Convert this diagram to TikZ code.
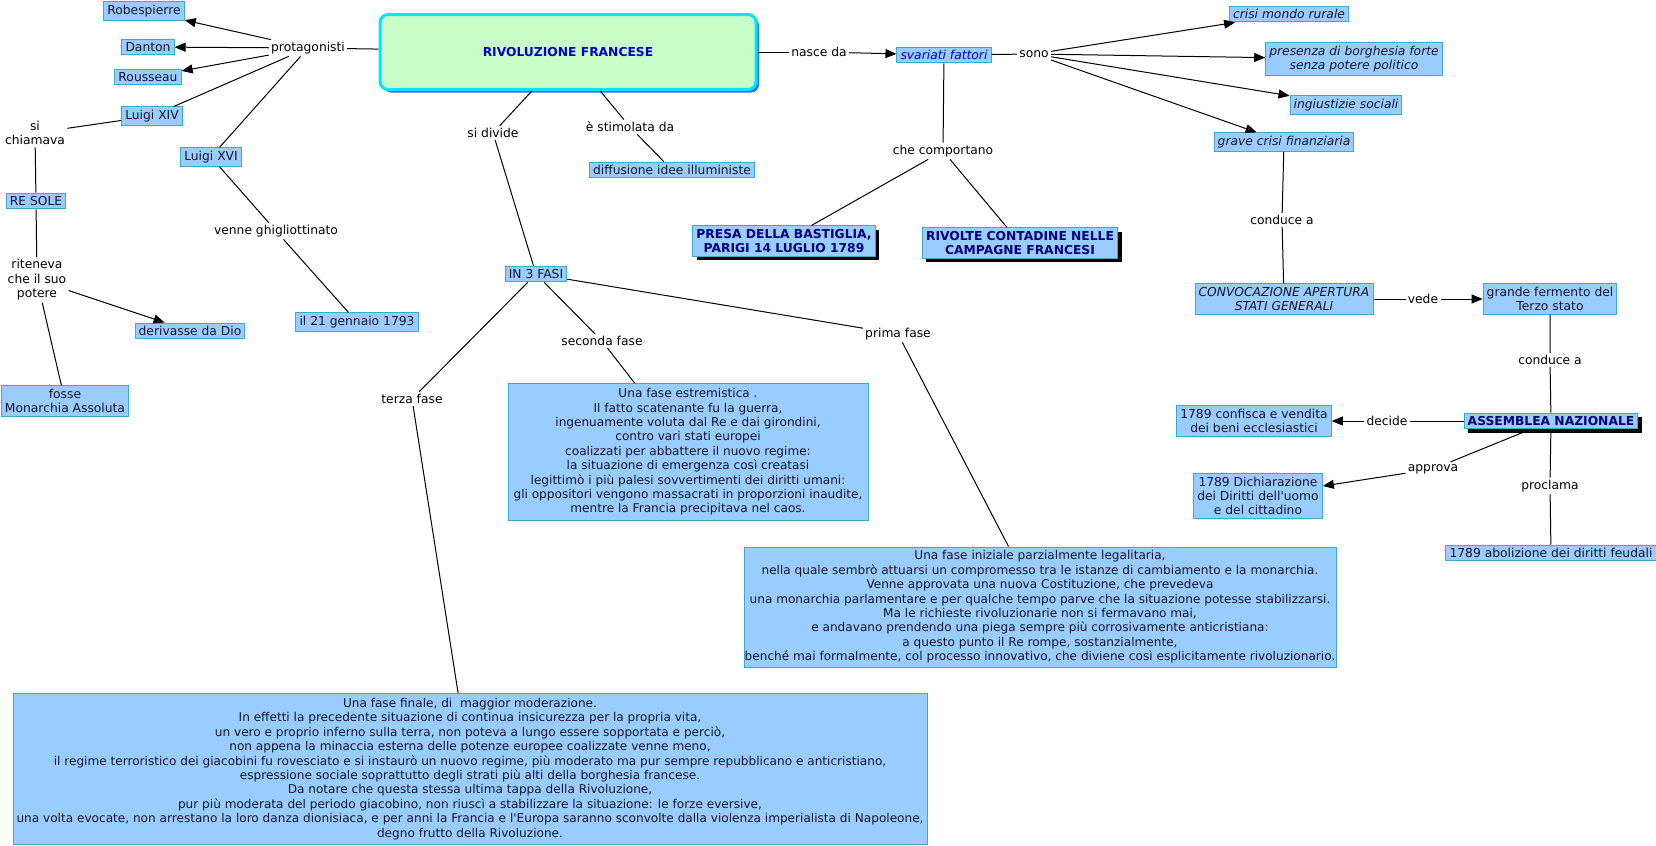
\documentclass[tikz,border=0pt]{standalone}
\usepackage{fontspec}
\setmainfont{DejaVu Sans}
\usetikzlibrary{arrows.meta,shadows}
\definecolor{boxfill}{RGB}{153,204,255}
\definecolor{boxline}{RGB}{60,170,200}
\definecolor{mainfill}{RGB}{200,255,200}
\definecolor{mainline}{RGB}{0,230,255}
\definecolor{mainshadow}{RGB}{40,110,255}
\definecolor{titleblue}{RGB}{0,0,200}
\definecolor{navy}{RGB}{0,0,120}
\definecolor{ink}{RGB}{20,20,40}
\begin{document}
\begin{tikzpicture}[x=0.5pt,y=-0.5pt,
    concept/.style={draw=boxline,fill=boxfill,line width=0.5pt,inner xsep=1.8pt,inner ysep=1.6pt,align=center,text=ink},
    slanted/.style={concept,font=\itshape},
    strong/.style={concept,font=\bfseries,text=navy,drop shadow={shadow xshift=2pt,shadow yshift=-2pt,fill=black,opacity=1}},
    phasebox/.style={concept,inner xsep=0.3pt,font=\fontsize{6.05}{7.2}\selectfont},
    phrase/.style={inner sep=1pt,align=center},
    link/.style={line width=0.5pt},
    arr/.style={line width=0.5pt,-{Triangle[length=5.5pt,width=4.5pt]}}]
    \fontsize{6.15}{7.2}\selectfont
    \useasboundingbox (0,0) rectangle (1656,846);

    \node [draw=mainline,line width=1.5pt,fill=mainfill,rounded corners=4pt,minimum width=188pt,minimum height=37.5pt,font=\bfseries,text=titleblue,drop shadow={shadow xshift=1.5pt,shadow yshift=-1.5pt,fill=mainshadow,opacity=1}] (rev) at (568,52) {RIVOLUZIONE FRANCESE};

    \node [concept] (robespierre) at (144,11) {Robespierre};
    \node [concept] (danton) at (148,47) {Danton};
    \node [concept] (rousseau) at (148,77) {Rousseau};
    \node [concept] (luigixiv) at (152,116) {Luigi XIV};
    \node [concept] (luigixvi) at (211,157) {Luigi XVI};
    \node [concept] (resole) at (36,201) {RE SOLE};
    \node [concept] (dio) at (190,331) {derivasse da Dio};
    \node [concept] (monarchia) at (65,401) {fosse\\Monarchia Assoluta};
    \node [concept] (gennaio) at (357,322) {il 21 gennaio 1793};
    \node [concept] (illuministe) at (672,170) {diffusione idee illuministe};
    \node [slanted,text=titleblue] (fattori) at (944,55) {svariati fattori};
    \node [slanted] (rurale) at (1289,14) {crisi mondo rurale};
    \node [slanted] (borghesia) at (1354,59) {presenza di borghesia forte\\senza potere politico};
    \node [slanted] (ingiustizie) at (1346,105) {ingiustizie sociali};
    \node [slanted] (finanza) at (1284,142) {grave crisi finanziaria};
    \node [strong] (bastiglia) at (784,241) {PRESA DELLA BASTIGLIA,\\PARIGI 14 LUGLIO 1789};
    \node [strong] (rivolte) at (1020,243) {RIVOLTE CONTADINE NELLE\\CAMPAGNE FRANCESI};
    \node [slanted] (stati) at (1284,299) {CONVOCAZIONE APERTURA\\STATI GENERALI};
    \node [concept] (fermento) at (1550,299) {grande fermento del\\Terzo stato};
    \node [strong] (assemblea) at (1551,421) {ASSEMBLEA NAZIONALE};
    \node [concept] (confisca) at (1254,421) {1789 confisca e vendita\\dei beni ecclesiastici};
    \node [concept] (diritti) at (1258,496) {1789 Dichiarazione\\dei Diritti dell\textquotesingle uomo\\e del cittadino};
    \node [concept] (feudali) at (1551,553) {1789 abolizione dei diritti feudali};
    \node [concept] (fasi) at (536,274) {IN 3 FASI};

    \node [phasebox,minimum width=180pt,minimum height=68.5pt] (fase2) at (688,452) {Una fase estremistica .\\
        Il fatto scatenante fu la guerra,\\
        ingenuamente voluta dal Re e dai girondini,\\
        contro vari stati europei\\
        coalizzati per abbattere il nuovo regime:\\
        la situazione di emergenza così creatasi\\
        legittimò i più palesi sovvertimenti dei diritti umani:\\
        gli oppositori vengono massacrati in proporzioni inaudite,\\
        mentre la Francia precipitava nel caos.};
    \node [phasebox,minimum width=296pt,minimum height=60pt] (fase1) at (1040,607) {Una fase iniziale parzialmente legalitaria,\\
        nella quale sembrò attuarsi un compromesso tra le istanze di cambiamento e la monarchia.\\
        Venne approvata una nuova Costituzione, che prevedeva\\
        una monarchia parlamentare e per qualche tempo parve che la situazione potesse stabilizzarsi.\\
        Ma le richieste rivoluzionarie non si fermavano mai,\\
        e andavano prendendo una piega sempre più corrosivamente anticristiana:\\
        a questo punto il Re rompe, sostanzialmente,\\
        benché mai formalmente, col processo innovativo, che diviene così esplicitamente rivoluzionario.};
    \node [phasebox,minimum width=457pt,minimum height=75.5pt] (fase3) at (470,769) {Una fase finale, di~ maggior moderazione.\\
        In effetti la precedente situazione di continua insicurezza per la propria vita,\\
        un vero e proprio inferno sulla terra, non poteva a lungo essere sopportata e perciò,\\
        non appena la minaccia esterna delle potenze europee coalizzate venne meno,\\
        il regime terroristico dei giacobini fu rovesciato e si instaurò un nuovo regime, più moderato ma pur sempre repubblicano e anticristiano,\\
        espressione sociale soprattutto degli strati più alti della borghesia francese.\\
        Da notare che questa stessa ultima tappa della Rivoluzione,\\
        pur più moderata del periodo giacobino, non riuscì a stabilizzare la situazione: le forze eversive,\\
        una volta evocate, non arrestano la loro danza dionisiaca, e per anni la Francia e l\textquotesingle Europa saranno sconvolte dalla violenza imperialista di Napoleone,\\
        degno frutto della Rivoluzione.};

    \node [phrase] (protagonisti) at (308,48) {protagonisti};
    \node [phrase] (chiamava) at (35,133) {si\\chiamava};
    \node [phrase] (riteneva) at (37,280) {riteneva\\che il suo\\potere};
    \node [phrase] (ghigliottinato) at (276,231) {venne ghigliottinato};
    \node [phrase] (divide) at (493,133) {si divide};
    \node [phrase] (stimolata) at (630,127) {è stimolata da};
    \node [phrase] (nasce) at (819,52) {nasce da};
    \node [phrase] (sono) at (1034,54) {sono};
    \node [phrase] (comportano) at (943,151) {che comportano};
    \node [phrase] (conduce) at (1282,220) {conduce a};
    \node [phrase] (vede) at (1423,299) {vede};
    \node [phrase] (conduceb) at (1550,360) {conduce a};
    \node [phrase] (decide) at (1387,421) {decide};
    \node [phrase] (approva) at (1433,469) {approva};
    \node [phrase] (proclama) at (1550,486) {proclama};
    \node [phrase] (seconda) at (602,341) {seconda fase};
    \node [phrase] (prima) at (898,334) {prima fase};
    \node [phrase] (terza) at (412,399) {terza fase};

    \draw [link] (rev) -- (protagonisti);
    \draw [arr] (protagonisti) -- (robespierre);
    \draw [arr] (protagonisti) -- (danton);
    \draw [arr] (protagonisti) -- (rousseau);
    \draw [link] (protagonisti) -- (luigixiv);
    \draw [link] (protagonisti) -- (luigixvi);
    \draw [link] (luigixiv) -- (chiamava) -- (resole);
    \draw [link] (resole) -- (riteneva);
    \draw [arr] (riteneva) -- (dio);
    \draw [link] (riteneva) -- (monarchia);
    \draw [link] (luigixvi) -- (ghigliottinato) -- (gennaio);
    \draw [link] (rev) -- (divide) -- (fasi);
    \draw [link] (rev) -- (stimolata) -- (illuministe);
    \draw [link] (rev) -- (nasce);
    \draw [arr] (nasce) -- (fattori);
    \draw [link] (fattori) -- (sono);
    \draw [arr] (sono) -- (rurale);
    \draw [arr] (sono) -- (borghesia);
    \draw [arr] (sono) -- (ingiustizie);
    \draw [arr] (sono) -- (finanza);
    \draw [link] (fattori) -- (comportano);
    \draw [link] (comportano) -- (bastiglia);
    \draw [link] (comportano) -- (rivolte);
    \draw [link] (finanza) -- (conduce) -- (stati);
    \draw [link] (stati) -- (vede);
    \draw [arr] (vede) -- (fermento);
    \draw [link] (fermento) -- (conduceb) -- (assemblea);
    \draw [link] (assemblea) -- (decide);
    \draw [arr] (decide) -- (confisca);
    \draw [link] (assemblea) -- (approva);
    \draw [arr] (approva) -- (diritti);
    \draw [link] (assemblea) -- (proclama) -- (feudali);
    \draw [link] (fasi) -- (seconda) -- (fase2);
    \draw [link] (fasi) -- (prima) -- (fase1);
    \draw [link] (fasi) -- (terza) -- (fase3);
\end{tikzpicture}
\end{document}
